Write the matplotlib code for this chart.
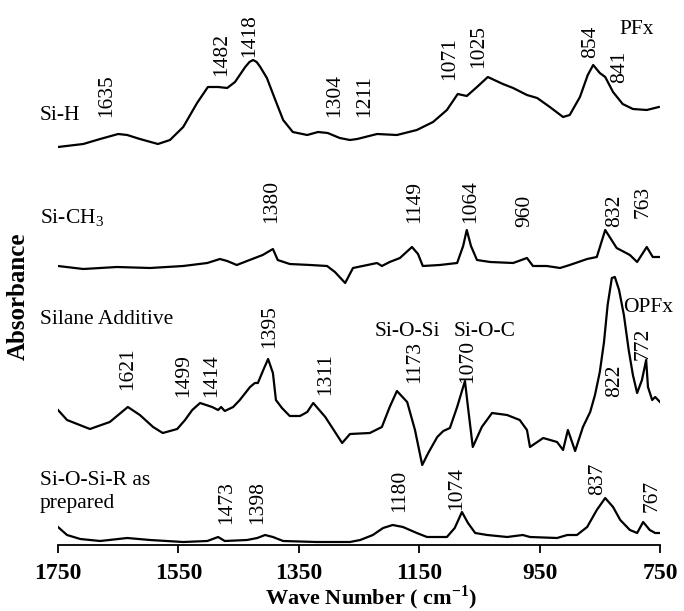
import matplotlib
matplotlib.use("Agg")
import matplotlib.pyplot as plt

plt.rcParams['font.family'] = ['Liberation Serif', 'DejaVu Serif']
plt.rcParams['mathtext.fontset'] = 'custom'
plt.rcParams['mathtext.rm'] = 'Liberation Serif'
plt.rcParams['mathtext.bf'] = 'Liberation Serif:bold'

# vertical offsets of the stacked spectra (a.u.)
offsets = [398, 279, 125, 4]

# Si-H
wn_sih = [1750, 1708, 1680, 1650, 1635, 1614, 1584, 1564, 1542, 1519, 1501, 1484, 1469, 1456,
          1439, 1432, 1426, 1420, 1414, 1403, 1389, 1376, 1360, 1336, 1318, 1302, 1282, 1265,
          1253, 1220, 1187, 1154, 1127, 1104, 1086, 1071, 1054, 1036, 1011, 994, 971, 954, 933,
          911, 900, 883, 870, 861, 850, 841, 828, 812, 795, 772, 752]
ab_sih = [0, 3, 8, 13, 12, 8, 3, 7, 20, 44, 60, 60, 59, 65,
          80, 85, 87, 85, 80, 69, 47, 27, 15, 12, 15, 14, 9, 7,
          8, 13, 12, 17, 25, 37, 53, 51, 60, 70, 63, 59, 52, 49, 40,
          30, 32, 50, 72, 82, 74, 70, 55, 43, 38, 37, 40]

# Si-CH3
wn_sich3 = [1750, 1708, 1652, 1597, 1542, 1502, 1481, 1469, 1453, 1436, 1410, 1393, 1385, 1365,
            1331, 1303, 1290, 1273, 1260, 1220, 1212, 1199, 1182, 1162, 1152, 1144, 1116, 1087,
            1077, 1071, 1064, 1054, 1032, 994, 971, 961, 938, 916, 900, 871, 855, 841, 822,
            800, 788, 772, 762, 750]
ab_sich3 = [0, -3, -1, -2, 0, 3, 7, 5, 1, 5, 11, 17, 6, 2,
            1, 0, -6, -17, -2, 3, 0, 4, 8, 19, 12, 0, 1, 3,
            20, 36, 20, 6, 4, 3, 8, 0, 0, -2, 1, 7, 9, 36, 18,
            11, 4, 19, 9, 9]

# Silane additive
wn_silane = [1750, 1735, 1697, 1664, 1634, 1614, 1592, 1576, 1552, 1539, 1527, 1514, 1494, 1484,
             1479, 1473, 1459, 1448, 1431, 1423, 1418, 1409, 1401, 1393, 1388, 1378, 1365, 1348,
             1336, 1326, 1306, 1278, 1265, 1232, 1212, 1199, 1187, 1170, 1157, 1145, 1135, 1120,
             1110, 1099, 1087, 1074, 1069, 1061, 1046, 1029, 1004, 983, 971, 966, 944, 921, 911,
             903, 891, 878, 866, 858, 850, 843, 837, 830, 825, 818, 810, 802, 795, 788, 780, 773,
             770, 763, 758, 750]
ab_silane = [10, 0, -9, -2, 13, 5, -7, -13, -9, 0, 10, 17, 13, 10,
             13, 9, 13, 20, 33, 37, 37, 50, 61, 47, 20, 12, 4, 4,
             8, 17, 3, -23, -14, -13, -7, 13, 29, 18, -10, -45, -33, -17,
             -11, -8, 13, 39, 13, -27, -7, 7, 5, 0, -10, -27, -18, -22, -30,
             -10, -31, -7, 8, 25, 48, 78, 115, 142, 143, 130, 105, 70, 45, 27, 40, 60,
             33, 20, 23, 18]

# Si-O-Si-R as prepared
wn_prep = [1750, 1735, 1713, 1680, 1635, 1597, 1542, 1502, 1484, 1473, 1436, 1419, 1406, 1393,
           1376, 1320, 1265, 1248, 1227, 1210, 1194, 1177, 1154, 1137, 1104, 1091, 1079, 1069,
           1057, 1037, 1004, 978, 966, 921, 904, 888, 871, 855, 841, 828, 816, 800, 788, 778,
           767, 758, 750]
ab_prep = [14, 6, 2, 0, 3, 1, -1, 0, 4, 0, 1, 3, 6, 4,
           0, -1, -1, 1, 6, 13, 16, 14, 8, 4, 4, 13, 29, 18,
           8, 6, 4, 6, 4, 3, 6, 6, 14, 31, 43, 34, 21, 11, 8, 19,
           11, 8, 8]

spectra = [(wn_sih, ab_sih), (wn_sich3, ab_sich3), (wn_silane, ab_silane), (wn_prep, ab_prep)]

# peak labels: text, position (cm-1), height of label base
peak_text = ['1635', '1482', '1418', '1304', '1211', '1071', '1025', '854', '841',
             '1380', '1149', '1064', '960', '832', '763',
             '1621', '1499', '1414', '1395', '1311', '1173', '1070', '822', '772',
             '1473', '1398', '1180', '1074', '837', '767']
peak_x = [1669, 1478, 1432, 1290, 1240, 1099, 1052, 865, 817,
          1395, 1157, 1064, 974, 826, 778,
          1634, 1542, 1494, 1398, 1305, 1157, 1069, 825, 778,
          1469, 1419, 1182, 1087, 853, 763]
peak_y = [428, 469, 488, 428, 428, 465, 477, 487, 462,
          322, 322, 322, 318, 318, 327,
          155, 148, 148, 197, 150, 162, 162, 148, 185,
          21, 21, 33, 35, 50, 33]

# sample names (left side)
names = ['Si-H', 'Si-CH$_3$', 'Silane Additive', 'Si-O-Si-R as\nprepared']
name_y = [429, 327, 225, 53]

# other annotations
notes = ['PFx', 'OPFx', 'Si-O-Si', 'Si-O-C']
note_x = [817, 812, 1170, 1041]
note_y = [515, 238, 213, 213]
note_ha = ['left', 'left', 'center', 'center']

fig = plt.figure(figsize=(6.84, 6.11), dpi=100)
ax = fig.add_axes([58/684, 66/611, 602/684, 545/611])

for (wn, ab), off in zip(spectra, offsets):
    ax.plot(wn, [a + off for a in ab], color='black', lw=1.6, solid_joinstyle='round')

for t, x, y in zip(peak_text, peak_x, peak_y):
    ax.text(x, y, t, rotation=90, ha='center', va='bottom', fontsize=15.5)

for t, y in zip(names, name_y):
    ax.text(1780, y, t, ha='left', va='center', fontsize=15.5, clip_on=False, linespacing=1.25)

for t, x, y, ha in zip(notes, note_x, note_y, note_ha):
    ax.text(x, y, t, ha=ha, va='center', fontsize=15.5, clip_on=False)

ax.set_xlim(1750, 750)
ax.set_ylim(0, 545)
ax.set_xticks([1750, 1550, 1350, 1150, 950, 750])
ax.set_yticks([])
for s in ['left', 'right', 'top']:
    ax.spines[s].set_visible(False)
ax.spines['bottom'].set_linewidth(1.3)
ax.tick_params(axis='x', direction='out', length=6, width=1.3, pad=7, labelsize=17)
for lab in ax.get_xticklabels():
    lab.set_fontweight('bold')

ax.set_xlabel(r'Wave Number ( cm$^{\mathbf{-1}}$)', fontsize=16, fontweight='bold')
ax.xaxis.set_label_coords(313/602, -38/545)
ax.set_ylabel('Absorbance', fontsize=18, fontweight='bold')
ax.yaxis.set_label_coords(-28/602, 249/545)

fig.savefig('out.png', dpi=100)
